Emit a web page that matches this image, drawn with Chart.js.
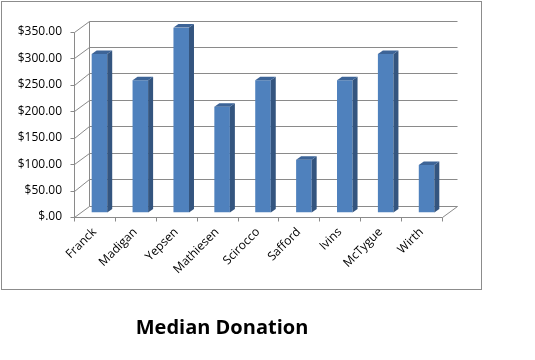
<!DOCTYPE html>
<html><head><meta charset="utf-8">
<script src="https://cdn.jsdelivr.net/npm/chart.js@4/dist/chart.umd.min.js"></script>
<style>
html,body{margin:0;padding:0;background:#fff;}
#wrap{position:relative;width:535px;height:360px;}
#title{position:absolute;left:72px;width:300px;top:317px;text-align:center;font:bold 20px "Open Sans";line-height:20px;color:#000;}
</style></head><body>
<div id="wrap"><canvas id="c" width="535" height="360"></canvas><div id="title">Median Donation</div></div>
<script>
const categories = ['Franck','Madigan','Yepsen','Mathiesen','Scirocco','Safford','Ivins','McTygue','Wirth'];
const donations = [300,250,350,200,250,100,250,300,90];
const yTicks = [0,50,100,150,200,250,300,350];
const tickLabel = v => v === 0 ? '$.00' : '$' + v.toFixed(2);

const WALL_DX = 15, WALL_DY = -11.5;
const BAR_SHIFT_X = 5, BAR_SHIFT_Y = -4.5;
const BAR_DX = 5, BAR_DY = -3.5;
const GRID = '#8a8a8a';

function line(ctx, x1, y1, x2, y2) { ctx.beginPath(); ctx.moveTo(x1, y1); ctx.lineTo(x2, y2); ctx.stroke(); }

const excel3d = {
  id: 'excel3d',
  beforeDraw(chart) {
    const ctx = chart.ctx;
    ctx.save();
    ctx.fillStyle = '#fff';
    ctx.fillRect(0, 0, chart.width, chart.height);
    ctx.strokeStyle = '#8c8c8c';
    ctx.lineWidth = 1;
    ctx.strokeRect(1.5, 1.5, 480, 288);
    ctx.restore();
  },
  beforeDatasetsDraw(chart) {
    const ctx = chart.ctx, a = chart.chartArea, ys = chart.scales.y, xs = chart.scales.x;
    ctx.save();
    ctx.strokeStyle = GRID; ctx.lineWidth = 1;
    const L = Math.round(a.left) + 0.5, R = Math.round(a.right) + 0.5;
    yTicks.forEach(v => {
      const y = Math.round(ys.getPixelForValue(v)) + 0.5;
      const yb = Math.round(ys.getPixelForValue(v) + WALL_DY) + 0.5;
      line(ctx, L + WALL_DX, yb, R + WALL_DX, yb);
      line(ctx, L, y, L + WALL_DX, yb);
      line(ctx, L - 4, y, L, y);
    });
    const top = Math.round(ys.getPixelForValue(350)) + 0.5, bot = Math.round(ys.getPixelForValue(0)) + 0.5;
    line(ctx, L, top, L, bot);
    line(ctx, L + WALL_DX, Math.round(top + WALL_DY) + 0.5, L + WALL_DX, Math.round(bot + WALL_DY) + 0.5);
    line(ctx, L, bot, R, bot);
    line(ctx, R, bot, R + WALL_DX, Math.round(bot + WALL_DY) + 0.5);
    for (let i = 0; i <= categories.length; i++) {
      const x = Math.round(xs.getPixelForValue(i - 0.5)) + 0.5;
      line(ctx, x, bot, x, bot + 4);
    }
    ctx.restore();
    ctx.save();
    ctx.translate(BAR_SHIFT_X, BAR_SHIFT_Y);
  },
  afterDatasetsDraw(chart) {
    const ctx = chart.ctx;
    const meta = chart.getDatasetMeta(0);
    meta.data.forEach(bar => {
      const { x, y, base, width } = bar.getProps(['x', 'y', 'base', 'width'], true);
      const l = x - width / 2, r = x + width / 2;
      ctx.fillStyle = '#34557f';
      ctx.beginPath();
      ctx.moveTo(r, y); ctx.lineTo(r + BAR_DX, y + BAR_DY); ctx.lineTo(r + BAR_DX, base + BAR_DY); ctx.lineTo(r, base);
      ctx.closePath(); ctx.fill();
      ctx.fillStyle = '#3d6497';
      ctx.beginPath();
      ctx.moveTo(l, y); ctx.lineTo(l + BAR_DX, y + BAR_DY); ctx.lineTo(r + BAR_DX, y + BAR_DY); ctx.lineTo(r, y);
      ctx.closePath(); ctx.fill();
    });
    ctx.restore();
  }
};

new Chart(document.getElementById('c'), {
  type: 'bar',
  data: {
    labels: categories,
    datasets: [{ data: donations, backgroundColor: '#4f81bd', borderWidth: 0, barPercentage: 0.38, categoryPercentage: 1 }]
  },
  options: {
    responsive: false,
    animation: false,
    devicePixelRatio: 1,
    layout: { padding: { top: 32, right: 93, left: 0, bottom: 0 } },
    plugins: { legend: { display: false }, tooltip: { enabled: false }, title: { display: false } },
    scales: {
      y: {
        min: 0, max: 350,
        afterFit(s) { s.width = 74; },
        afterBuildTicks(s) { s.ticks = yTicks.map(v => ({ value: v })); },
        ticks: { callback: v => tickLabel(v), padding: 12, color: '#000', font: { family: 'Open Sans', size: 12 } },
        grid: { display: false, drawTicks: false },
        border: { display: false }
      },
      x: {
        afterFit(s) { s.height = 143; },
        ticks: { minRotation: 45, maxRotation: 45, autoSkip: false, padding: 8, color: '#000', font: { family: 'Open Sans', size: 12 } },
        grid: { display: false, drawTicks: false },
        border: { display: false }
      }
    }
  },
  plugins: [excel3d]
});
</script>
</body></html>
